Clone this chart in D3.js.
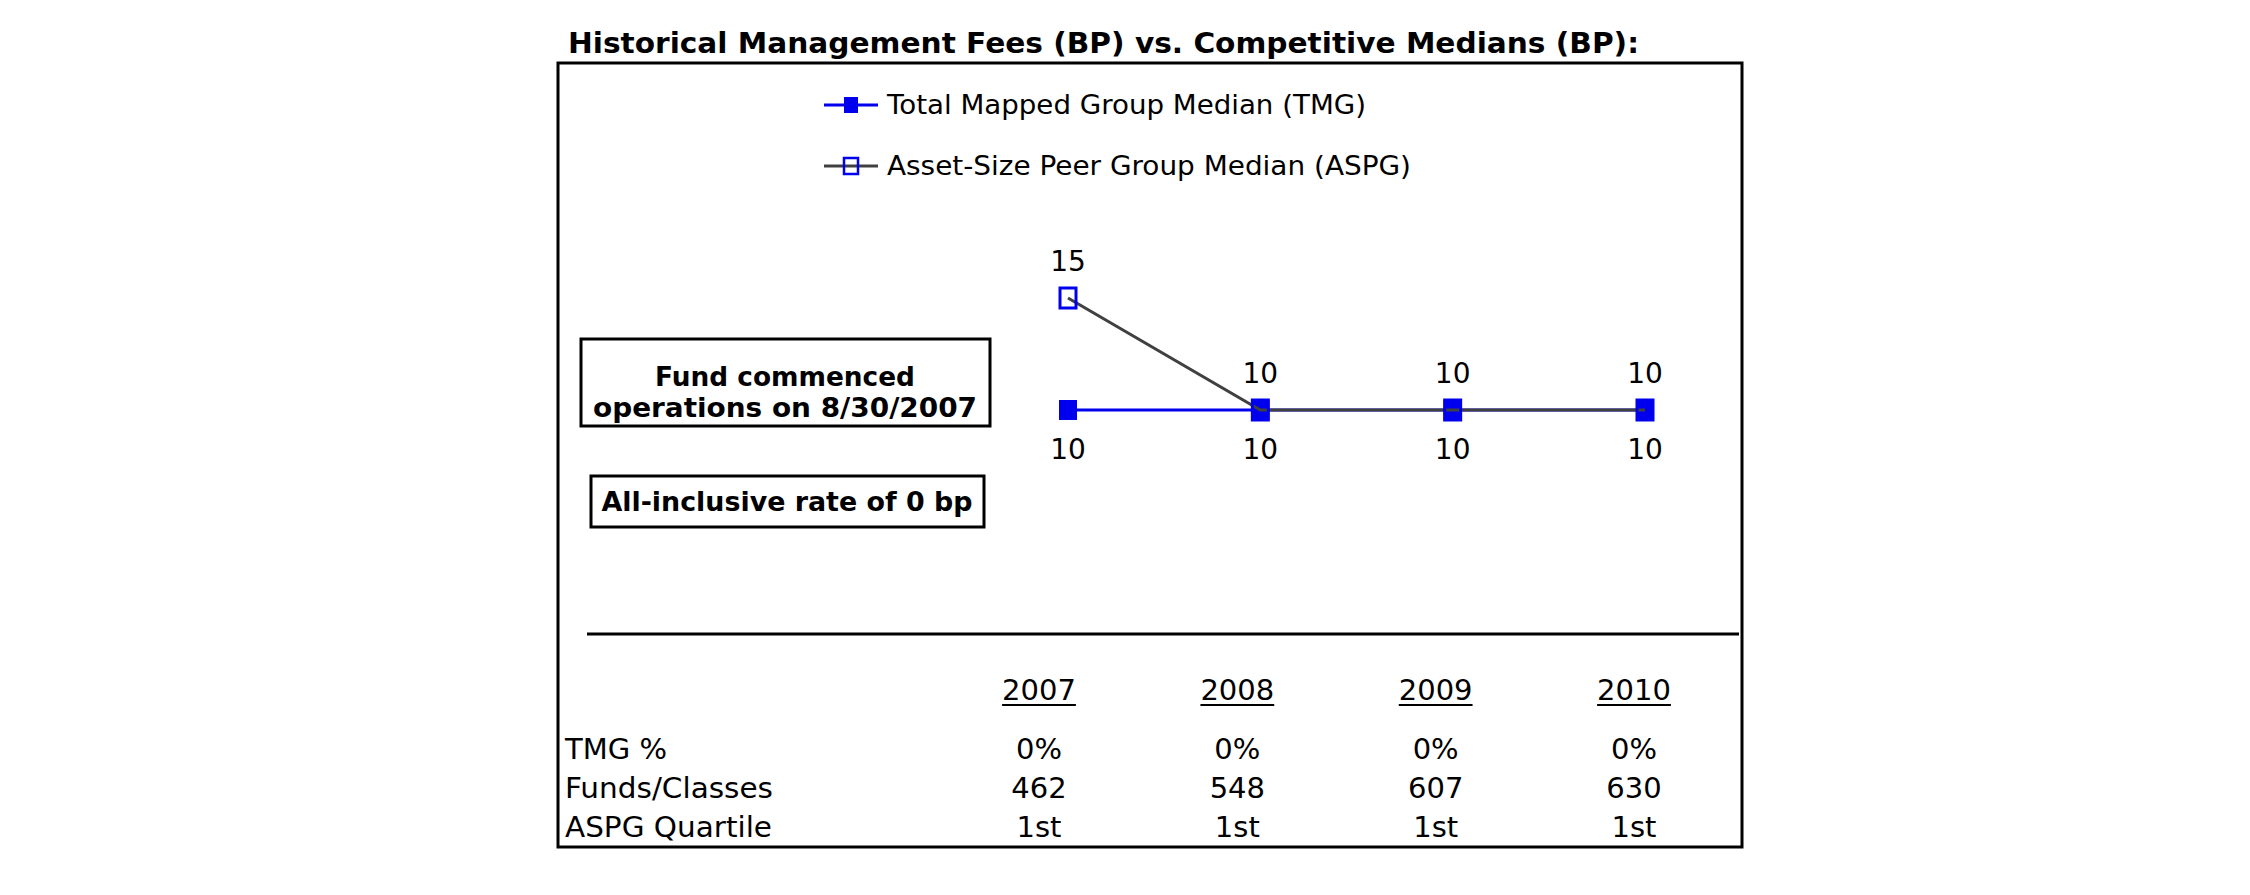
<!DOCTYPE html>
<html><head><meta charset="utf-8">
<script src="https://cdn.jsdelivr.net/npm/d3@7"></script>
<style>
html,body{margin:0;padding:0;background:#fff;}
svg text{font-family:"DejaVu Sans",Verdana,sans-serif;fill:#000;}
</style></head>
<body>
<svg id="c" width="2250" height="895"></svg>
<script>
const years = ["2007","2008","2009","2010"];
const tmgValues = [10,10,10,10];
const aspgValues = [15,10,10,10];
const seriesNames = ["Total Mapped Group Median (TMG)","Asset-Size Peer Group Median (ASPG)"];
const rowLabels = ["TMG %","Funds/Classes","ASPG Quartile"];
const tmgPct = ["0%","0%","0%","0%"];
const fundsClasses = ["462","548","607","630"];
const aspgQuartile = ["1st","1st","1st","1st"];
const titleText = "Historical Management Fees (BP) vs. Competitive Medians (BP):";
const noteLines = ["Fund commenced","operations on 8/30/2007"];
const rateNote = "All-inclusive rate of 0 bp";

const svg = d3.select("#c");
const BLUE = "#0000ee", GRAY = "#404040";

function fit(sel, w){ if(w) sel.attr("textLength", w).attr("lengthAdjust","spacingAndGlyphs"); return sel; }

const x = d3.scalePoint().domain(years).range([1068,1645]);
const y = d3.scaleLinear().domain([0,15]).range([634,298]);

// title
fit(svg.append("text").attr("x",568).attr("y",53).attr("font-size",28).attr("font-weight","bold").text(titleText), 1071);
// frame
svg.append("rect").attr("x",558).attr("y",63).attr("width",1184).attr("height",784).attr("fill","none").attr("stroke","#000").attr("stroke-width",3);

// x axis (zero line)
svg.append("line").attr("x1",587).attr("x2",1739).attr("y1",y(0)).attr("y2",y(0)).attr("stroke","#000").attr("stroke-width",3);

// legend
const leg = [{y:105,color:BLUE,fill:BLUE,w:479},{y:166,color:GRAY,fill:"none",w:524}];
leg.forEach((l,i)=>{
  svg.append("line").attr("x1",824).attr("x2",878).attr("y1",l.y).attr("y2",l.y).attr("stroke",l.color).attr("stroke-width",3);
  svg.append("rect").attr("x",851-7).attr("y",l.y-8).attr("width",14).attr("height",16)
    .attr("fill",l.fill).attr("stroke",BLUE).attr("stroke-width",i===0?0:2.5);
  fit(svg.append("text").attr("x",887).attr("y",l.y+9).attr("font-size",26).text(seriesNames[i]), l.w);
});

const line = d3.line().x((d,i)=>x(years[i])).y(d=>y(d));
// TMG
svg.append("path").attr("d",line(tmgValues)).attr("fill","none").attr("stroke",BLUE).attr("stroke-width",3);
svg.selectAll(".tm").data(tmgValues).enter().append("rect")
  .attr("x",(d,i)=>x(years[i])-9).attr("y",d=>y(d)-10).attr("width",18).attr("height",20).attr("fill",BLUE);
// ASPG
svg.append("path").attr("d",line(aspgValues)).attr("fill","none").attr("stroke",GRAY).attr("stroke-width",3);
svg.selectAll(".am").data(aspgValues).enter().append("rect")
  .attr("x",(d,i)=>x(years[i])-8).attr("y",d=>y(d)-10).attr("width",16).attr("height",20).attr("fill","none").attr("stroke",BLUE).attr("stroke-width",3);

// data labels
svg.selectAll(".al").data(aspgValues).enter().append("text")
  .attr("x",(d,i)=>x(years[i])).attr("y",d=>y(d)-27).attr("text-anchor","middle").attr("font-size",28).text(d=>d);
svg.selectAll(".tl").data(tmgValues).enter().append("text")
  .attr("x",(d,i)=>x(years[i])).attr("y",d=>y(d)+49).attr("text-anchor","middle").attr("font-size",28).text(d=>d);

// notes
svg.append("rect").attr("x",581).attr("y",339).attr("width",409).attr("height",87).attr("fill","#fff").attr("stroke","#000").attr("stroke-width",3);
const noteW=[260,384];
noteLines.forEach((t,i)=>fit(svg.append("text").attr("x",785).attr("y",386+i*31).attr("text-anchor","middle").attr("font-size",26).attr("font-weight","bold").text(t), noteW[i]));
svg.append("rect").attr("x",591).attr("y",476).attr("width",393).attr("height",51).attr("fill","#fff").attr("stroke","#000").attr("stroke-width",3);
fit(svg.append("text").attr("x",787).attr("y",511).attr("text-anchor","middle").attr("font-size",26).attr("font-weight","bold").text(rateNote), 371);

// table
const tx = d3.scalePoint().domain(years).range([1039,1634]);
const hdr = svg.selectAll(".yh").data(years).enter().append("text")
  .attr("x",d=>tx(d)).attr("y",700).attr("text-anchor","middle").attr("font-size",29).text(d=>d);
hdr.each(function(d){
  const bb=this.getBBox();
  svg.append("line").attr("x1",bb.x).attr("x2",bb.x+bb.width).attr("y1",705).attr("y2",705).attr("stroke","#000").attr("stroke-width",2);
});
const rows=[tmgPct,fundsClasses,aspgQuartile];
const ry=[759,798,837];
const labW=[null,208,207];
rowLabels.forEach((lab,r)=>{
  fit(svg.append("text").attr("x",565).attr("y",ry[r]).attr("font-size",29).text(lab), labW[r]);
  svg.selectAll(".r"+r).data(rows[r]).enter().append("text")
    .attr("x",(d,i)=>tx(years[i])).attr("y",ry[r]).attr("text-anchor","middle").attr("font-size",29).text(d=>d);
});
</script>
</body></html>
